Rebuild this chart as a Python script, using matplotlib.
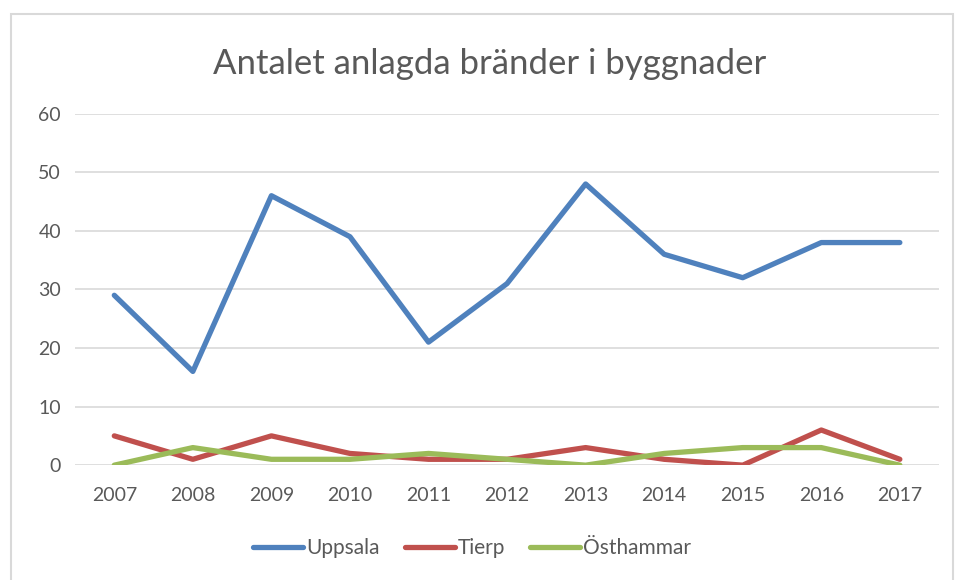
import matplotlib.pyplot as plt
from matplotlib.patches import Rectangle

# data
years = ['2007', '2008', '2009', '2010', '2011', '2012', '2013', '2014', '2015', '2016', '2017']
uppsala = [29, 16, 46, 39, 21, 31, 48, 36, 32, 38, 38]
tierp = [5, 1, 5, 2, 1, 1, 3, 1, 0, 6, 1]
osthammar = [0, 3, 1, 1, 2, 1, 0, 2, 3, 3, 0]

plt.rcParams['font.family'] = ['Lato', 'DejaVu Sans']
textfarg = '#595959'

fig = plt.figure(figsize=(9.58, 5.8), dpi=100)
ax = fig.add_axes([0.0783, 0.198, 0.902, 0.606])

# ram runt diagrammet
fig.patches.append(Rectangle((11 / 958, -0.01), (953 - 11) / 958, (580 - 14) / 580 + 0.01,
                             transform=fig.transFigure, fill=False, edgecolor='#d9d9d9', linewidth=1.5))

x = range(len(years))
ax.plot(x, uppsala, color='#4F81BD', linewidth=3.8, label='Uppsala', solid_capstyle='round')
ax.plot(x, tierp, color='#C0504D', linewidth=3.8, label='Tierp', solid_capstyle='round')
ax.plot(x, osthammar, color='#9BBB59', linewidth=3.8, label='Östhammar', solid_capstyle='round')

ax.set_xlim(-0.5, len(years) - 0.5)
ax.set_ylim(0, 60)
ax.set_yticks(range(0, 61, 10))
ax.set_xticks(list(x))
ax.set_xticklabels(years)
ax.grid(axis='y', color='#d9d9d9', linewidth=1.2)
ax.set_axisbelow(True)
for s in ax.spines.values():
    s.set_visible(False)
ax.tick_params(length=0, labelsize=14, colors=textfarg)
ax.tick_params(axis='x', pad=16)
ax.tick_params(axis='y', pad=10)

fig.text(490 / 958, 1 - 64 / 580, 'Antalet anlagda bränder i byggnader', ha='center', va='center',
         fontsize=25, color=textfarg)

ax.legend(loc='center', bbox_to_anchor=(472 / 958, 1 - 548 / 580), bbox_transform=fig.transFigure,
          ncol=3, frameon=False, fontsize=15, labelcolor=textfarg, handlelength=2.4,
          handletextpad=0.15, columnspacing=1.2)

plt.savefig('out.png', dpi=100)
